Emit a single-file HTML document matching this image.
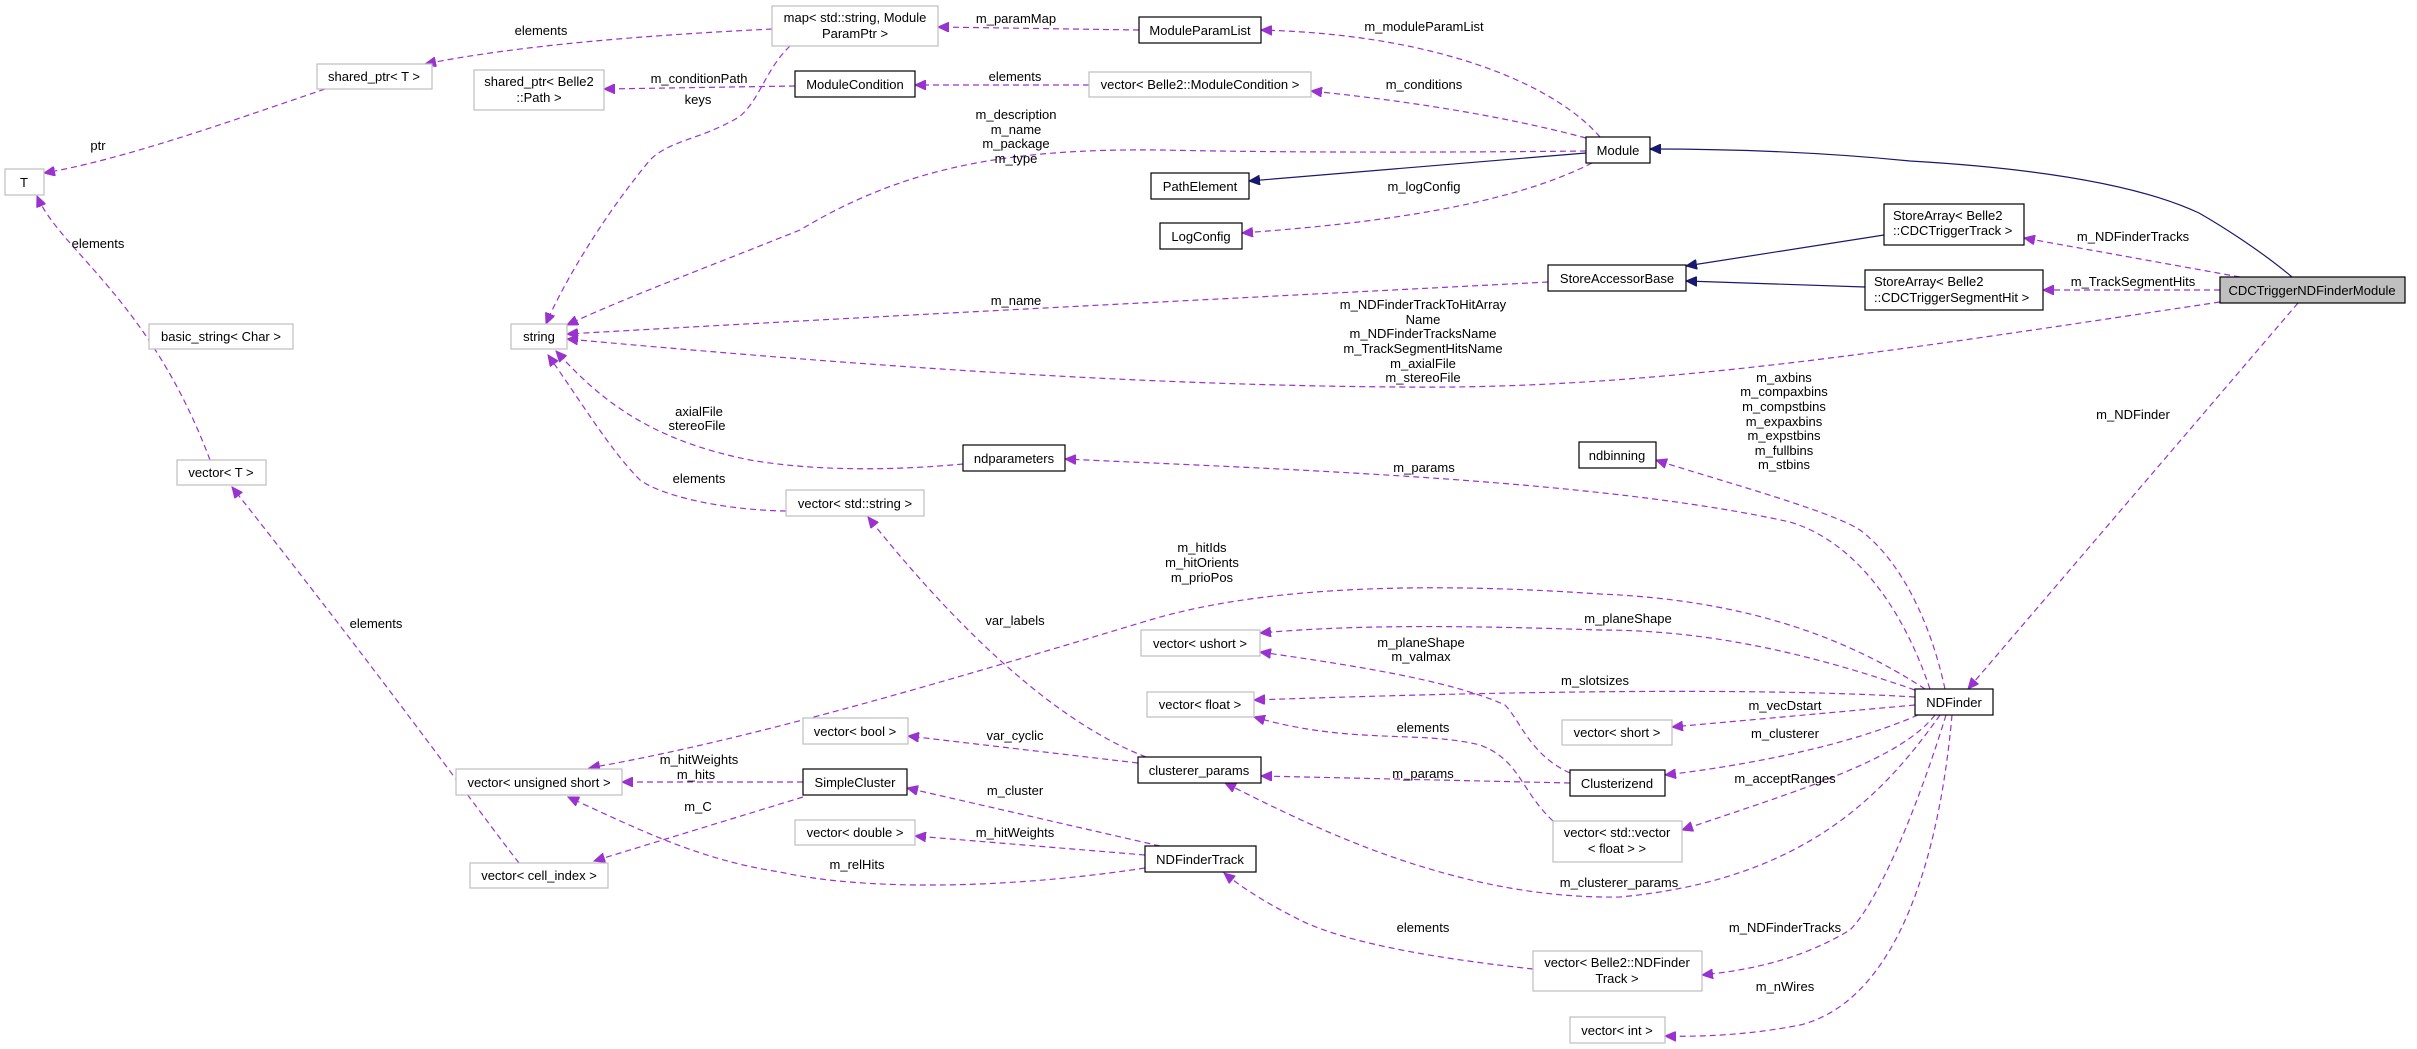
<!DOCTYPE html>
<html><head><meta charset="utf-8"><style>
html,body{margin:0;padding:0;background:#fff;}
svg{display:block;}
text{font-family:"Liberation Sans",Arial,sans-serif;font-size:13px;fill:#000;}
.n{fill:#fff;stroke:#000;stroke-width:1.2;}
.g{fill:#fff;stroke:#bfbfbf;stroke-width:1.2;}
.e{fill:none;stroke:#9a32cd;stroke-width:1.2;stroke-dasharray:6,4;marker-end:url(#pa);}
.i{fill:none;stroke:#191970;stroke-width:1.2;marker-end:url(#na);}
</style></head><body>
<svg width="2417" height="1049" viewBox="0 0 2417 1049" xmlns="http://www.w3.org/2000/svg">
<defs>
<marker id="pa" markerWidth="12" markerHeight="10" refX="11" refY="5" orient="auto" markerUnits="userSpaceOnUse"><path d="M0,0 L11,5 L0,10 z" fill="#9a32cd" stroke="#9a32cd"/></marker>
<marker id="na" markerWidth="12" markerHeight="10" refX="11" refY="5" orient="auto" markerUnits="userSpaceOnUse"><path d="M0,0 L11,5 L0,10 z" fill="#191970" stroke="#191970"/></marker>
</defs>

<!-- edges -->
<path class="e" d="M772,29 C 650,35 520,45 425,64"/>
<path class="e" d="M325,89 C 220,125 120,160 44,173"/>
<path class="e" d="M210,460 C 150,300 60,250 37,196"/>
<path class="e" d="M519,863 C 470,800 400,700 232,487"/>
<path class="e" d="M1139,30 L938,27"/>
<path class="e" d="M1600,137 C 1560,90 1450,35 1261,30"/>
<path class="e" d="M795,86 L604,89"/>
<path class="e" d="M790,46 C 765,70 760,100 739,117 C 700,140 670,140 650,160 C 600,220 560,290 546,324"/>
<path class="e" d="M1089,85 L915,85"/>
<path class="e" d="M1586,138 C 1500,115 1400,100 1311,91"/>
<path class="e" d="M1586,151 C 1400,153 1250,152 1162,150 C 1000,148 900,170 800,230 C 700,270 620,300 567,325"/>
<path class="i" d="M1586,153 L1249,181"/>
<path class="e" d="M1592,163 C 1500,210 1350,225 1242,233"/>
<path class="i" d="M2292,277 C 2260,250 2220,225 2199,213 C 2150,190 2065,170 1910,161 C 1800,150 1700,149 1650,149"/>
<path class="i" d="M1884,235 L1686,266"/>
<path class="i" d="M1865,287 L1686,281"/>
<path class="e" d="M2240,277 L2024,238"/>
<path class="e" d="M2220,290 L2043,290"/>
<path class="e" d="M1548,282 C 1200,300 900,315 567,334"/>
<path class="e" d="M2220,302 C 1900,350 1650,390 1400,387 C 1100,385 800,360 567,339"/>
<path class="e" d="M2298,303 L1968,689"/>
<path class="e" d="M963,464 C 900,470 820,472 750,460 C 650,440 600,400 556,351"/>
<path class="e" d="M786,511 C 720,510 660,495 640,480 C 610,450 580,400 548,355"/>
<path class="e" d="M1930,689 C 1900,600 1850,540 1790,522 C 1600,480 1300,470 1065,459"/>
<path class="e" d="M1945,689 C 1930,620 1900,560 1860,530 C 1830,510 1700,475 1656,460"/>
<path class="e" d="M1925,689 C 1850,640 1750,600 1600,594 C 1400,580 1250,590 1150,620 C 950,680 750,740 589,768"/>
<path class="e" d="M1915,690 C 1800,650 1700,630 1600,630 C 1450,625 1350,625 1260,633"/>
<path class="e" d="M1915,697 C 1800,690 1600,688 1254,700"/>
<path class="e" d="M1915,705 L1672,727"/>
<path class="e" d="M1918,715 C 1850,745 1750,765 1665,775"/>
<path class="e" d="M1935,715 C 1900,760 1800,790 1682,830"/>
<path class="e" d="M1940,715 C 1880,800 1800,880 1620,897 C 1450,900 1300,820 1225,783"/>
<path class="e" d="M1946,715 C 1920,800 1880,900 1850,930 C 1800,960 1750,970 1702,975"/>
<path class="e" d="M1952,715 C 1940,850 1900,1000 1800,1025 C 1750,1035 1700,1037 1665,1036"/>
<path class="e" d="M1570,773 C 1530,755 1520,720 1505,705 C 1450,680 1350,665 1260,652"/>
<path class="e" d="M1570,783 L1261,776"/>
<path class="e" d="M1553,821 C 1520,790 1520,760 1480,745 C 1420,730 1350,745 1254,717"/>
<path class="e" d="M1146,757 C 1050,720 950,620 868,517"/>
<path class="e" d="M1138,763 L908,736"/>
<path class="e" d="M1160,846 L907,788"/>
<path class="e" d="M1145,855 L915,836"/>
<path class="e" d="M1145,868 C 1000,890 860,890 780,872 C 700,860 640,830 568,797"/>
<path class="e" d="M803,782 L622,782"/>
<path class="e" d="M803,797 L594,861"/>
<path class="e" d="M1533,969 C 1450,960 1350,945 1300,920 C 1270,905 1245,890 1224,873"/>

<!-- nodes -->
<rect class="g" x="772" y="6" width="166" height="40"/><text x="855" y="22" text-anchor="middle">map&lt; std::string, Module</text><text x="855" y="38" text-anchor="middle">ParamPtr &gt;</text>
<rect class="g" x="317" y="64" width="115" height="25"/><text x="374" y="81" text-anchor="middle">shared_ptr&lt; T &gt;</text>
<rect class="g" x="474" y="70" width="130" height="40"/><text x="539" y="86" text-anchor="middle">shared_ptr&lt; Belle2</text><text x="539" y="102" text-anchor="middle">::Path &gt;</text>
<rect class="g" x="5" y="169" width="39" height="26"/><text x="24" y="187" text-anchor="middle">T</text>
<rect class="g" x="149" y="324" width="144" height="25"/><text x="221" y="341" text-anchor="middle">basic_string&lt; Char &gt;</text>
<rect class="g" x="511" y="324" width="56" height="25"/><text x="539" y="341" text-anchor="middle">string</text>
<rect class="g" x="177" y="460" width="89" height="25"/><text x="221" y="477" text-anchor="middle">vector&lt; T &gt;</text>
<rect class="n" x="1139" y="17" width="122" height="26"/><text x="1200" y="35" text-anchor="middle">ModuleParamList</text>
<rect class="n" x="795" y="71" width="120" height="26"/><text x="855" y="89" text-anchor="middle">ModuleCondition</text>
<rect class="g" x="1089" y="72" width="222" height="25"/><text x="1200" y="89" text-anchor="middle">vector&lt; Belle2::ModuleCondition &gt;</text>
<rect class="n" x="1586" y="137" width="64" height="26"/><text x="1618" y="155" text-anchor="middle">Module</text>
<rect class="n" x="1151" y="173" width="98" height="26"/><text x="1200" y="191" text-anchor="middle">PathElement</text>
<rect class="n" x="1160" y="223" width="82" height="26"/><text x="1201" y="241" text-anchor="middle">LogConfig</text>
<rect class="n" x="1548" y="265" width="138" height="26"/><text x="1617" y="283" text-anchor="middle">StoreAccessorBase</text>
<rect class="n" x="1884" y="204" width="140" height="41"/><text x="1893" y="220">StoreArray&lt; Belle2</text><text x="1893" y="235">::CDCTriggerTrack &gt;</text>
<rect class="n" x="1865" y="270" width="178" height="40"/><text x="1874" y="286">StoreArray&lt; Belle2</text><text x="1874" y="302">::CDCTriggerSegmentHit &gt;</text>
<rect x="2220" y="277" width="185" height="26" fill="#bfbfbf" stroke="#000" stroke-width="1.2"/><text x="2312" y="295" text-anchor="middle">CDCTriggerNDFinderModule</text>
<rect class="n" x="963" y="445" width="102" height="26"/><text x="1014" y="463" text-anchor="middle">ndparameters</text>
<rect class="n" x="1579" y="442" width="77" height="26"/><text x="1617" y="460" text-anchor="middle">ndbinning</text>
<rect class="g" x="786" y="490" width="138" height="26"/><text x="855" y="508" text-anchor="middle">vector&lt; std::string &gt;</text>
<rect class="g" x="1141" y="630" width="119" height="26"/><text x="1200" y="648" text-anchor="middle">vector&lt; ushort &gt;</text>
<rect class="g" x="1147" y="692" width="107" height="25"/><text x="1200" y="709" text-anchor="middle">vector&lt; float &gt;</text>
<rect class="g" x="803" y="718" width="105" height="26"/><text x="855" y="736" text-anchor="middle">vector&lt; bool &gt;</text>
<rect class="n" x="1138" y="757" width="123" height="26"/><text x="1199" y="775" text-anchor="middle">clusterer_params</text>
<rect class="n" x="803" y="769" width="104" height="26"/><text x="855" y="787" text-anchor="middle">SimpleCluster</text>
<rect class="g" x="795" y="820" width="120" height="25"/><text x="855" y="837" text-anchor="middle">vector&lt; double &gt;</text>
<rect class="n" x="1145" y="846" width="111" height="26"/><text x="1200" y="864" text-anchor="middle">NDFinderTrack</text>
<rect class="g" x="456" y="769" width="166" height="26"/><text x="539" y="787" text-anchor="middle">vector&lt; unsigned short &gt;</text>
<rect class="g" x="470" y="863" width="138" height="25"/><text x="539" y="880" text-anchor="middle">vector&lt; cell_index &gt;</text>
<rect class="g" x="1562" y="720" width="110" height="25"/><text x="1617" y="737" text-anchor="middle">vector&lt; short &gt;</text>
<rect class="n" x="1570" y="770" width="95" height="26"/><text x="1617" y="788" text-anchor="middle">Clusterizend</text>
<rect class="g" x="1553" y="821" width="129" height="41"/><text x="1617" y="837" text-anchor="middle">vector&lt; std::vector</text><text x="1617" y="853" text-anchor="middle">&lt; float &gt; &gt;</text>
<rect class="g" x="1533" y="951" width="169" height="40"/><text x="1617" y="967" text-anchor="middle">vector&lt; Belle2::NDFinder</text><text x="1617" y="983" text-anchor="middle">Track &gt;</text>
<rect class="g" x="1570" y="1017" width="95" height="26"/><text x="1617" y="1035" text-anchor="middle">vector&lt; int &gt;</text>
<rect class="n" x="1915" y="689" width="78" height="26"/><text x="1954" y="707" text-anchor="middle">NDFinder</text>

<!-- edge labels -->
<g text-anchor="middle">
<text x="541" y="35">elements</text>
<text x="98" y="150">ptr</text>
<text x="98" y="248">elements</text>
<text x="699" y="83">m_conditionPath</text>
<text x="698" y="104">keys</text>
<text x="699" y="416">axialFile</text>
<text x="697" y="430">stereoFile</text>
<text x="699" y="483">elements</text>
<text x="1016" y="23">m_paramMap</text>
<text x="1424" y="31">m_moduleParamList</text>
<text x="1015" y="81">elements</text>
<text x="1424" y="89">m_conditions</text>
<text x="1016" y="119">m_description</text>
<text x="1016" y="134">m_name</text>
<text x="1016" y="148">m_package</text>
<text x="1016" y="163">m_type</text>
<text x="1424" y="191">m_logConfig</text>
<text x="1016" y="305">m_name</text>
<text x="1423" y="309">m_NDFinderTrackToHitArray</text>
<text x="1423" y="324">Name</text>
<text x="1423" y="338">m_NDFinderTracksName</text>
<text x="1423" y="353">m_TrackSegmentHitsName</text>
<text x="1423" y="368">m_axialFile</text>
<text x="1423" y="382">m_stereoFile</text>
<text x="1424" y="472">m_params</text>
<text x="2133" y="241">m_NDFinderTracks</text>
<text x="2133" y="286">m_TrackSegmentHits</text>
<text x="2133" y="419">m_NDFinder</text>
<text x="1784" y="382">m_axbins</text>
<text x="1784" y="396">m_compaxbins</text>
<text x="1784" y="411">m_compstbins</text>
<text x="1784" y="426">m_expaxbins</text>
<text x="1784" y="440">m_expstbins</text>
<text x="1784" y="455">m_fullbins</text>
<text x="1784" y="469">m_stbins</text>
<text x="376" y="628">elements</text>
<text x="699" y="764">m_hitWeights</text>
<text x="696" y="779">m_hits</text>
<text x="698" y="811">m_C</text>
<text x="1202" y="552">m_hitIds</text>
<text x="1202" y="567">m_hitOrients</text>
<text x="1202" y="582">m_prioPos</text>
<text x="1015" y="625">var_labels</text>
<text x="1421" y="647">m_planeShape</text>
<text x="1421" y="661">m_valmax</text>
<text x="1423" y="732">elements</text>
<text x="1015" y="740">var_cyclic</text>
<text x="1423" y="778">m_params</text>
<text x="1015" y="795">m_cluster</text>
<text x="1015" y="837">m_hitWeights</text>
<text x="857" y="869">m_relHits</text>
<text x="1423" y="932">elements</text>
<text x="1628" y="623">m_planeShape</text>
<text x="1595" y="685">m_slotsizes</text>
<text x="1785" y="710">m_vecDstart</text>
<text x="1785" y="738">m_clusterer</text>
<text x="1785" y="783">m_acceptRanges</text>
<text x="1619" y="887">m_clusterer_params</text>
<text x="1785" y="932">m_NDFinderTracks</text>
<text x="1785" y="991">m_nWires</text>
</g>
</svg>
</body></html>
